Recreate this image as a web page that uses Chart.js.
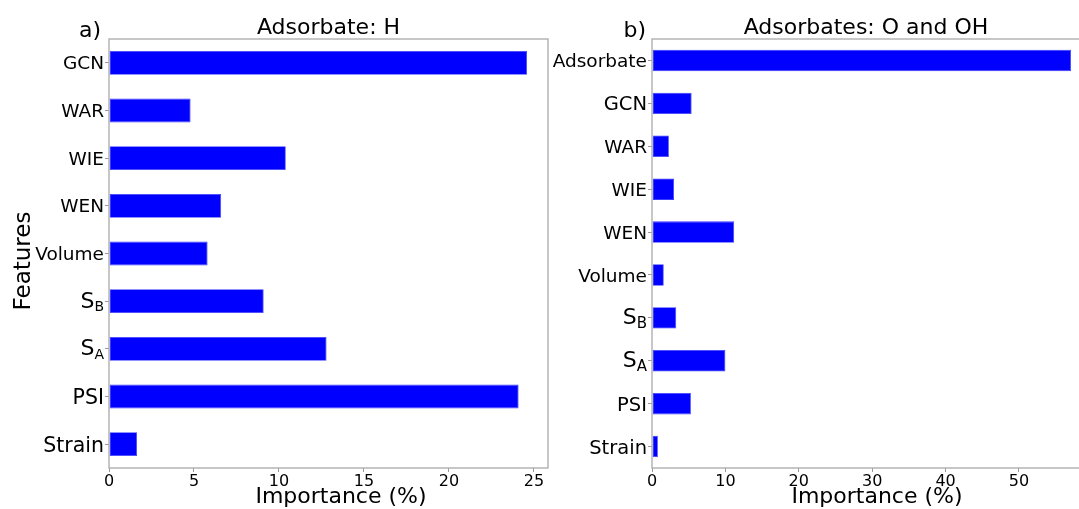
<!DOCTYPE html>
<html>
<head>
<meta charset="utf-8">
<script src="https://cdn.jsdelivr.net/npm/chart.js@4.4.0/dist/chart.umd.min.js"></script>
<style>
  html, body { margin: 0; padding: 0; background: #fff; overflow: hidden; width: 1079px; height: 509px; }
  .panel { position: absolute; top: 0; height: 509px; }
  #panelH { left: 0; width: 560px; }
  #panelO { left: 540px; width: 560px; }
</style>
</head>
<body>
<div class="panel" id="panelH"><canvas id="chartH"></canvas></div>
<div class="panel" id="panelO"><canvas id="chartO"></canvas></div>
<script>
// Feature importances for the H adsorbate model
const featuresH = ['GCN', 'WAR', 'WIE', 'WEN', 'Volume', 'S_B', 'S_A', 'PSI', 'Strain'];
const importanceH = [24.6, 4.8, 10.4, 6.6, 5.8, 9.1, 12.8, 24.1, 1.65];
const ticksH = [0, 5, 10, 15, 20, 25];

// Feature importances for the O / OH adsorbate model
const featuresO = ['Adsorbate', 'GCN', 'WAR', 'WIE', 'WEN', 'Volume', 'S_B', 'S_A', 'PSI', 'Strain'];
const importanceO = [57.1, 5.4, 2.3, 3.0, 11.2, 1.6, 3.3, 10.0, 5.3, 0.8];
const ticksO = [0, 10, 20, 30, 40, 50];

const FONT = "'DejaVu Sans', sans-serif";
const FRAME = '#b0b0b0';

// y tick labels: "S_X" is drawn as S with a subscript
const labelPlugin = {
  id: 'featureLabels',
  afterDraw(chart, args, opts) {
    const ctx = chart.ctx;
    const y = chart.scales.y;
    const right = chart.chartArea.left - 5;
    ctx.save();
    ctx.fillStyle = '#000';
    ctx.textAlign = 'right';
    ctx.textBaseline = 'alphabetic';
    y.getLabels().forEach((name, i) => {
      const py = y.getPixelForTick(i);
      const size = opts.size(name);
      if (name.startsWith('S_')) {
        const sub = name.slice(2);
        ctx.font = `${opts.subSize}px ${FONT}`;
        const wSub = ctx.measureText(sub).width;
        ctx.fillText(sub, right, py + opts.subSize * 0.7);
        ctx.font = `${size}px ${FONT}`;
        ctx.fillText('S', right - wSub, py + size * 0.3);
      } else {
        ctx.font = `${size}px ${FONT}`;
        ctx.fillText(name, right, py + size * 0.36);
      }
    });
    ctx.restore();
  }
};

// frame, panel letter, title and axis titles
const panelPlugin = {
  id: 'panelText',
  afterDraw(chart, args, o) {
    const ctx = chart.ctx;
    const a = chart.chartArea;
    ctx.save();
    ctx.strokeStyle = FRAME;
    ctx.lineWidth = 1.4;
    ctx.strokeRect(a.left, a.top, a.right - a.left, a.bottom - a.top);
    ctx.fillStyle = '#000';
    ctx.textBaseline = 'alphabetic';
    ctx.font = `22px ${FONT}`;
    ctx.textAlign = 'right';
    ctx.fillText(o.letter, o.letterX, 37);
    ctx.textAlign = 'center';
    ctx.font = `${o.titleSize}px ${FONT}`;
    ctx.fillText(o.title, (a.left + a.right) / 2 + o.titleShift, 34);
    ctx.font = `22px ${FONT}`;
    ctx.fillText(o.xTitle, o.xTitleX, 503);
    if (o.yTitle) {
      ctx.translate(30, 261);
      ctx.rotate(-Math.PI / 2);
      ctx.font = `23px ${FONT}`;
      ctx.fillText(o.yTitle, 0, 0);
    }
    ctx.restore();
  }
};

function makeChart(id, labels, values, tickValues, xMax, axisWidth, padRight, text, sizeFn, subSize) {
  return new Chart(document.getElementById(id), {
    type: 'bar',
    data: {
      labels: labels,
      datasets: [{
        data: values,
        backgroundColor: '#0000ff',
        borderColor: '#3b3bff',
        borderWidth: 0.8,
        borderSkipped: false,
        barPercentage: 0.5,
        categoryPercentage: 1.0
      }]
    },
    options: {
      indexAxis: 'y',
      responsive: true,
      maintainAspectRatio: false,
      animation: false,
      devicePixelRatio: 1,
      layout: { padding: { left: 0, top: 39, right: padRight, bottom: 0 } },
      plugins: {
        legend: { display: false },
        tooltip: { enabled: false },
        title: { display: false },
        featureLabels: { size: sizeFn, subSize: subSize },
        panelText: text
      },
      scales: {
        x: {
          type: 'linear',
          min: 0,
          max: xMax,
          afterBuildTicks: (s) => { s.ticks = tickValues.map(v => ({ value: v })); },
          afterFit: (s) => { s.height = 41; },
          ticks: {
            font: { family: FONT, size: 16 },
            color: '#000',
            padding: 0,
            maxRotation: 0,
            autoSkip: false
          },
          grid: { display: true, drawOnChartArea: false, drawTicks: true, tickLength: 4, color: '#999', lineWidth: 1 },
          border: { display: false }
        },
        y: {
          type: 'category',
          offset: true,
          afterFit: (s) => { s.width = axisWidth; },
          ticks: { display: false, autoSkip: false },
          grid: { display: true, offset: false, drawOnChartArea: false, drawTicks: true, tickLength: 4, color: '#999', lineWidth: 1 },
          border: { display: false }
        }
      }
    },
    plugins: [labelPlugin, panelPlugin]
  });
}

makeChart('chartH', featuresH, importanceH, ticksH, 25.83, 109, 12,
  { letter: 'a)', letterX: 101, title: 'Adsorbate: H', titleSize: 22, titleShift: 0,
    xTitle: 'Importance (%)', xTitleX: 341, yTitle: 'Features' },
  (n) => (['S_B', 'S_A'].includes(n) ? 22 : (['PSI', 'Strain'].includes(n) ? 20.5 : 18.5)), 14);

makeChart('chartO', featuresO, importanceO, ticksO, 59.95, 112, 8,
  { letter: 'b)', letterX: 106, title: 'Adsorbates: O and OH', titleSize: 22, titleShift: -6,
    xTitle: 'Importance (%)', xTitleX: 337, yTitle: null },
  (n) => (['S_B', 'S_A'].includes(n) ? 22 : (['PSI', 'Strain', 'GCN'].includes(n) ? 19.5 : 18.5)), 15);
</script>
</body>
</html>
